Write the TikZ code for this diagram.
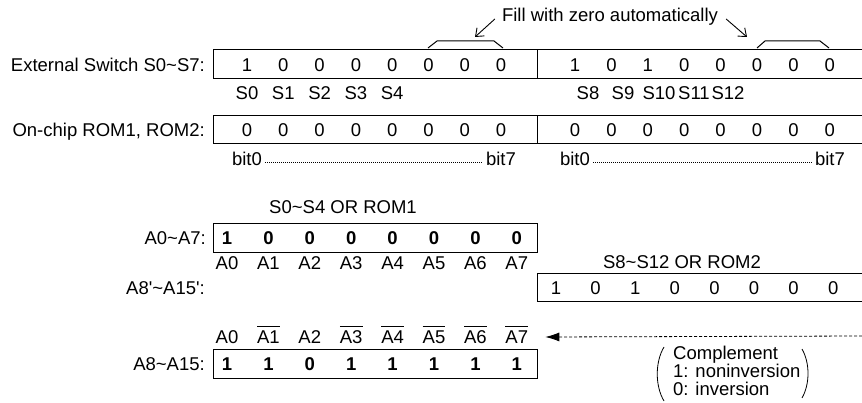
\documentclass[tikz,border=0pt]{standalone}
\usepackage{fontspec}
\setmainfont{Liberation Sans}
\usetikzlibrary{arrows.meta}

\newcommand{\fs}{\fontsize{18.5}{18}\selectfont}
\newcommand{\ovl}[1]{$\overline{\hbox{\rule{0pt}{16pt}#1}}$}
\newcommand{\tld}{\textasciitilde}

\tikzset{
  txt/.style={inner sep=0pt, text height=13.3pt, text depth=0pt, font=\fs},
  bdig/.style={txt, font=\fs\bfseries},
  reg/.style={line width=1pt},
  dots/.style={line width=0.7pt, dash pattern=on 0.7pt off 1.3pt},
}

\begin{document}
\begin{tikzpicture}[x=1pt, y=-1pt]
  \useasboundingbox (0,0) rectangle (862,403);
  % External switches
  \node[txt, anchor=east] (swlbl) at (205,65) {External Switch S0\tld S7:};
  \draw[reg] (862,50) -- (213,50) -- (213,79) -- (862,79);
  \draw[reg] (537,50) -- (537,79);
  \foreach \v [count=\i from 0] in {1,0,0,0,0,0,0,0}
    \node[txt] (swa\i) at ({247+36.3*\i},65) {\v};
  \foreach \v [count=\i from 0] in {1,0,1,0,0,0,0,0}
    \node[txt] (swb\i) at ({575+36.4*\i},65) {\v};
  \foreach \i in {0,...,4}
    \node[txt] (sn\i) at ({247+36.3*\i},93) {S\i};
  \foreach \x [count=\i from 8] in {588,623,659,694,728}
    \node[txt] (sn\i) at (\x,93) {S\i};
  % Fill with zero
  \node[txt] (fill) at (610,15) {Fill with zero automatically};
  \draw[reg] (428,48) -- (437,41) -- (494,41) -- (503,48);
  \draw[reg] (757,48) -- (765,41) -- (820,41) -- (829,48);
  \coordinate (lbrk) at (475,37);
  \coordinate (rbrk) at (747,37);
  \draw[line width=0.9pt, -{Straight Barb[length=7pt,width=11pt]}] ([shift={(-7,4)}]fill.west) -- (lbrk);
  \draw[line width=0.9pt, -{Straight Barb[length=7pt,width=11pt]}] ([shift={(8,4)}]fill.east) -- (rbrk);
  % On-chip ROM
  \node[txt, anchor=east] (romlbl) at (205,130) {On-chip ROM1, ROM2:};
  \draw[reg] (862,116) -- (213,116) -- (213,144) -- (862,144);
  \draw[reg] (537,116) -- (537,144);
  \foreach \i in {0,...,7} {
    \node[txt] (roma\i) at ({247+36.3*\i},130) {0};
    \node[txt] (romb\i) at ({575+36.4*\i},130) {0};
  }
  \node[txt] (bita0) at (247,159) {bit0};
  \node[txt] (bita7) at (501,159) {bit7};
  \node[txt] (bitb0) at (575,159) {bit0};
  \node[txt] (bitb7) at (830,159) {bit7};
  \draw[dots] ([shift={(3,3)}]bita0.east) -- ([shift={(-3,3)}]bita7.west);
  \draw[dots] ([shift={(3,3)}]bitb0.east) -- ([shift={(-3,3)}]bitb7.west);
  % A0~A7
  \node[txt] (orlo) at (343,207) {S0\tld S4 OR ROM1};
  \node[txt, anchor=east] (alolbl) at (206,238) {A0\tld A7:};
  \draw[reg] (213,224) rectangle (537,253);
  \foreach \v [count=\i from 0] in {1,0,0,0,0,0,0,0} {
    \node[bdig] (alo\i) at ({227+41.4*\i},238) {\v};
    \node[txt] (aname\i) at ({227+41.4*\i},263) {A\i};
  }
  % A8'~A15'
  \node[txt] (orhi) at (682,262) {S8\tld S12 OR ROM2};
  \node[txt, anchor=east] (ahiplbl) at (205,288) {A8\textquotesingle\tld A15\textquotesingle:};
  \draw[reg] (862,274) -- (537,274) -- (537,302) -- (862,302);
  \foreach \v [count=\i from 0] in {1,0,1,0,0,0,0,0}
    \node[txt] (ahip\i) at ({556+39.6*\i},288) {\v};
  % A8~A15
  \node[txt, anchor=east] (ahilbl) at (205,364) {A8\tld A15:};
  \draw[reg] (213,349) rectangle (537,378);
  \foreach \v/\lab [count=\i from 0] in {1/A0, 1/\ovl{A1}, 0/A2, 1/\ovl{A3},
      1/\ovl{A4}, 1/\ovl{A5}, 1/\ovl{A6}, 1/\ovl{A7}} {
    \node[bdig] (ahi\i) at ({227+41.4*\i},364) {\v};
    \node[txt] (cmp\i) at ({227+41.4*\i},337) {\lab};
  }
  % Complement
  \coordinate (cin) at (862,336);
  \draw[line width=0.8pt, dash pattern=on 3pt off 2pt, -{Latex[length=14pt,width=9pt]}] (cin) -- ([xshift=17pt]cmp7.east);
  \node[font=\fs, align=left, inner sep=0pt, anchor=west] (cnote) at (673,371) {Complement\\1: noninversion\\0: inversion};
  \draw[line width=0.8pt] (664,347) .. controls (655,362) and (655,386) .. (664,401);
  \draw[line width=0.8pt] (802,349) .. controls (810,363) and (810,384) .. (802,398);
\end{tikzpicture}
\end{document}
